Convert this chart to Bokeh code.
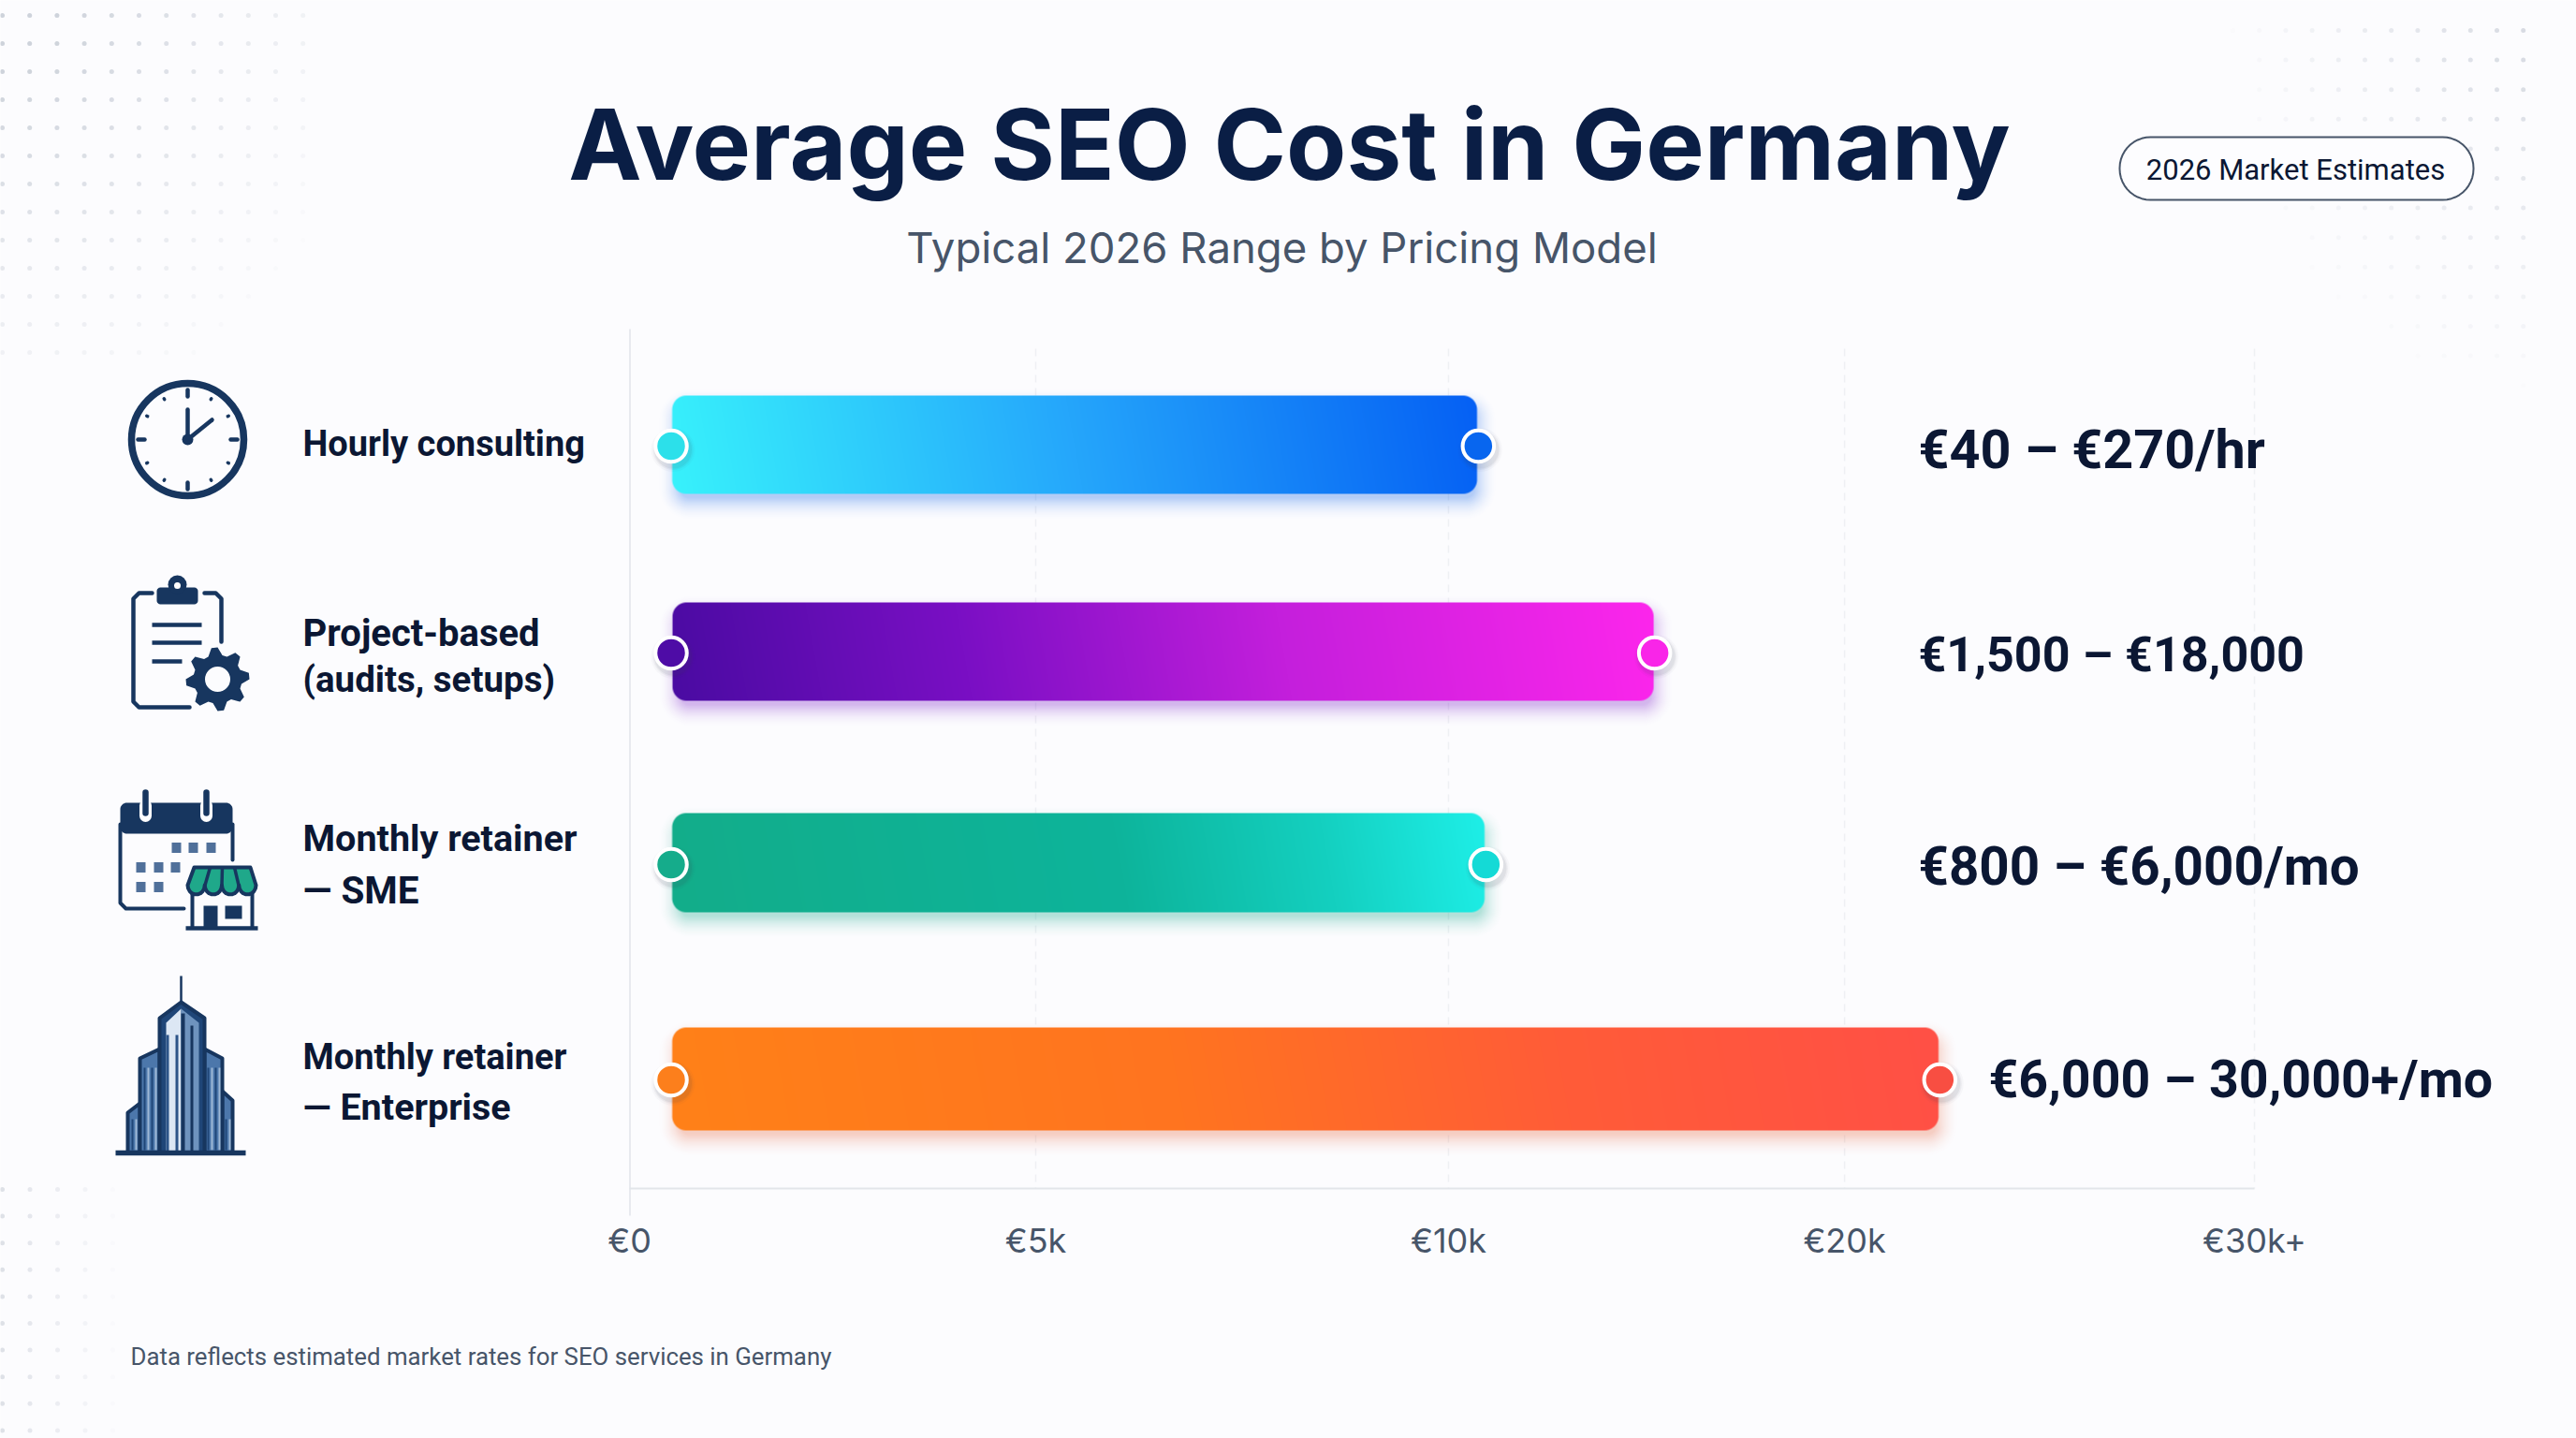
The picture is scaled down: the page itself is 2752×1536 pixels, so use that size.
import numpy as np
from bokeh.plotting import figure
from bokeh.models import Range1d, LinearAxis, FixedTicker, Label
from bokeh.embed import file_html
from bokeh.resources import INLINE

# ---------- data ----------
categories = ["Hourly consulting", "Project-based\n(audits, setups)", "Monthly retainer\n— SME", "Monthly retainer\n— Enterprise"]
range_low_k = [0.53, 0.53, 0.53, 0.53]
range_high_k = [10.73, 15.18, 10.92, 22.3]
value_labels = ["€40 – €270/hr", "€1,500 – €18,000", "€800 – €6,000/mo", "€6,000 – 30,000+/mo"]
tick_k = [0, 5, 10, 20, 30]
tick_labels = ["€0", "€5k", "€10k", "€20k", "€30k+"]

# ---------- layout ----------
W, H = 2752, 1536
TICK_POS = [0.0, 1.0, 2.016, 2.991, 4.0]   # the axis is not linear in euros
PX_PER_UNIT = 434.0
X0 = 672.0
def u(X): return (X - X0) / PX_PER_UNIT
def to_axis(k): return float(np.interp(k, tick_k, TICK_POS))

ROW_Y = [474.5, 695.5, 921, 1152]
BAR_H = [105, 105, 106, 110]
DOT_Y = [476, 697, 923, 1153]
STOPS = [
    [(0, "#38F2FB"), (0.5, "#25A6FB"), (1, "#0560F4")],
    [(0, "#4A0BA2"), (0.3, "#7A0FC4"), (0.62, "#C41FDC"), (1, "#FD26EC")],
    [(0, "#13AD8A"), (0.55, "#0DB49B"), (0.8, "#14D0C0"), (1, "#1EEFE8")],
    [(0, "#FF8118"), (0.4, "#FF7420"), (0.7, "#FF5C38"), (1, "#FF5046")],
]
DOT_L = ["#2CE0EA", "#4E0CA6", "#15AC8B", "#FC7F1C"]
DOT_R = ["#0866EF", "#F925E8", "#14DAD6", "#F84E42"]
SHADOW = ["#1566E8", "#7A1FC8", "#14A88C", "#E86A45"]
NAVY = "#17365F"
INK = "#0B1733"
SLATE = "#475569"
BG = "#FCFCFE"

p = figure(width=W, height=H, output_backend="svg", toolbar_location=None,
           x_axis_type=None, y_axis_type=None, min_border=0,
           x_range=Range1d(u(0), u(W)), y_range=Range1d(H, 0),
           background_fill_color=BG, border_fill_color=BG, outline_line_color=None)
p.grid.visible = False
p.extra_x_ranges["px"] = Range1d(0, W)
p.extra_y_ranges["up"] = Range1d(-H, 0)

def hexrgb(c): return np.array([int(c[i:i + 2], 16) for i in (1, 3, 5)], float)
def line(xs, ys, w, c, cap="round", alpha=1):
    p.line(xs, ys, x_range_name="px", line_width=w, line_color=c, line_cap=cap, line_join="round", line_alpha=alpha)
def poly(xs, ys, c, lc=None, lw=0):
    p.patch(list(xs), list(ys), x_range_name="px", fill_color=c, line_color=lc, line_width=lw, line_join="round")
def disc(x, y, r, c, lc=None, lw=0):
    p.scatter([x], [y], x_range_name="px", size=2 * r, fill_color=c, line_color=lc, line_width=lw)
def box(x0, y0, x1, y1, c):
    poly([x0, x1, x1, x0], [y0, y0, y1, y1], c)
BASE_FIX = 0.37   # distance the text box puts between the anchor and the baseline, per font px
def text(x, y, s, size, color, bold=False, font="Inter", align="left"):
    p.add_layout(Label(x=x, y=y - BASE_FIX * size, x_range_name="px", text=s, text_font=font, text_font_size=f"{size}px",
                       text_color=color, text_font_style="bold" if bold else "normal",
                       text_align=align, text_baseline="alphabetic"))
def rrect(x0, y0, x1, y1, r, n=12):
    t = np.linspace(0, np.pi / 2, n)
    xs = np.r_[x1 - r + r * np.sin(t), x1 - r + r * np.cos(t), x0 + r - r * np.sin(t), x0 + r - r * np.cos(t)]
    ys = np.r_[y0 + r - r * np.cos(t), y1 - r + r * np.sin(t), y1 - r + r * np.cos(t), y0 + r - r * np.sin(t)]
    return xs, ys

# ---------- dotted corners ----------
def dots(xs, ys, fade):
    gx, gy = np.meshgrid(xs, ys)
    a = np.clip(fade(gx, gy), 0, 1) * 0.3
    keep = a > 0.015
    p.scatter(gx[keep], gy[keep], x_range_name="px", size=5, fill_color="#64748B", fill_alpha=a[keep], line_color=None)
dots(2 + 29.2 * np.arange(12), 16 + 30 * np.arange(13), lambda x, y: 1.2 - np.hypot(x / 340, y / 400))
dots(2385 + 28.2 * np.arange(12), 32 + 31.6 * np.arange(13), lambda x, y: 0.85 - np.hypot((2720 - x) / 420, (y - 30) / 480))
dots(2 + 29.5 * np.arange(5), 1270 + 28.6 * np.arange(10), lambda x, y: 0.5 - (x - 32) / 200)

# ---------- axis and grid ----------
line([672.5, 672.5], [351, 1298], 2, "#E8EAEF", cap="butt")
grid = p.segment(TICK_POS[1:], [372] * 4, TICK_POS[1:], [1269] * 4, line_color="#EEF0F4", line_width=1.5)
grid.glyph.line_dash = [8, 6]
p.segment([TICK_POS[0]], [1269], [TICK_POS[-1]], [1269], line_color="#E2E5EA", line_width=2)
axis = LinearAxis(fixed_location=1269, ticker=FixedTicker(ticks=TICK_POS),
                  major_label_overrides={t: s for t, s in zip(TICK_POS, tick_labels)},
                  axis_line_color=None, major_tick_line_color=None, minor_tick_line_color=None,
                  major_label_text_font="Inter", major_label_text_font_size="36px", major_label_text_color=SLATE,
                  major_label_standoff=27, major_label_orientation="horizontal")
p.add_layout(axis, "below")

# ---------- bars ----------
def bar_image(w, h, stops, shadow, margin=44):
    iw, ih = int(w + 2 * margin), int(h + 2 * margin)
    yy, xx = np.mgrid[0:ih, 0:iw] + 0.5
    def sdf(ox, oy, r):
        qx = np.abs(xx - iw / 2 - ox) - (w / 2 - r)
        qy = np.abs(yy - ih / 2 - oy) - (h / 2 - r)
        return np.hypot(np.maximum(qx, 0), np.maximum(qy, 0)) + np.minimum(np.maximum(qx, qy), 0) - r
    t = np.clip((xx - margin + 0.18 * (h - (yy - margin))) / (w + 0.18 * h), 0, 1)
    pos = [s[0] for s in stops]
    cols = np.array([hexrgb(s[1]) for s in stops])
    rgb = np.dstack([np.interp(t, pos, cols[:, i]) for i in range(3)])
    cover = np.clip(0.5 - sdf(0, 0, 15), 0, 1)
    sh = np.clip(1 - np.maximum(sdf(3, 10, 15) + 6, 0) / 26, 0, 1) ** 2 * 0.32
    a = cover + sh * (1 - cover)
    out = (rgb * cover[..., None] + hexrgb(shadow) * (sh * (1 - cover))[..., None]) / np.maximum(a, 1e-4)[..., None]
    rgba = np.zeros((ih, iw, 4), dtype=np.uint8)
    rgba[..., :3] = np.clip(out, 0, 255)
    rgba[..., 3] = np.clip(a * 255, 0, 255)
    return rgba[::-1].copy().view(np.uint32).reshape(ih, iw), iw, ih, margin

for i, cat in enumerate(categories):
    left, right = to_axis(range_low_k[i]), to_axis(range_high_k[i])
    # base bar, through the scales, covered by the gradient raster of the same extent
    inset = 18 / PX_PER_UNIT
    p.hbar(y=[ROW_Y[i]], left=[left + inset], right=[right - inset], height=BAR_H[i] - 3,
           fill_color=STOPS[i][1][1], line_color=None)
    w = (right - left) * PX_PER_UNIT
    img, iw, ih, m = bar_image(w, BAR_H[i], STOPS[i], SHADOW[i])
    p.image_rgba(image=[img], x=left - m / PX_PER_UNIT, dw=iw / PX_PER_UNIT,
                 y=-(ROW_Y[i] + ih / 2), dh=ih, y_range_name="up")
    for x, c in ((left - 1.5 / PX_PER_UNIT, DOT_L[i]), (right + 1 / PX_PER_UNIT, DOT_R[i])):
        for grow, al in ((10, 0.03), (6, 0.05), (3, 0.07)):
            p.scatter([x + 2 / PX_PER_UNIT], [DOT_Y[i] + 4], size=37 + grow, fill_color="#334155", fill_alpha=al, line_color=None)
        p.scatter([x], [DOT_Y[i]], size=33.5, fill_color=c, line_color="#FFFFFF", line_width=4)

# ---------- texts ----------
text(1377, 192, "Average SEO Cost in Germany", 105, "#0A1E45", bold=True, align="center")
text(1369, 281, "Typical 2026 Range by Pricing Model", 45.5, SLATE, align="center")
xs, ys = rrect(2264, 146, 2642, 213, 33)
poly(xs, ys, "#FDFDFF", lc=SLATE, lw=2)
text(2452, 192, "2026 Market Estimates", 31, INK, align="center", font="Roboto")
text(139, 1458, "Data reflects estimated market rates for SEO services in Germany", 25.8, SLATE, font="Roboto")

cat_base = [[488], [691, 739], [910, 965], [1143, 1197]]
cat_size = [[38], [40, 38.5], [39.5, 40.5], [38, 39.5]]
for cat, bases, sizes in zip(categories, cat_base, cat_size):
    for s, b, fs in zip(cat.split("\n"), bases, sizes):
        text(323, b, s, fs, INK, bold=True, font="Roboto")
val_x = [2049, 2049, 2049, 2124]
val_y = [501, 718, 946, 1174]
val_size = [57.5, 52, 56.5, 55.5]
for s, x, y, fs in zip(value_labels, val_x, val_y, val_size):
    text(x, y, s, fs, INK, bold=True, font="Roboto")

# ---------- icons ----------
# clock
disc(200, 469, 60, BG, lc=NAVY, lw=7.5)
for k in range(12):
    a = k * np.pi / 6
    r0, r1, lw = (46, 53, 4.5) if k % 3 == 0 else (49.5, 50.5, 3.5)
    line([200 + r0 * np.sin(a), 200 + r1 * np.sin(a)], [469 - r0 * np.cos(a), 469 - r1 * np.cos(a)], lw, NAVY)
line([200, 200], [469, 437], 4.5, NAVY)
line([200, 226], [469, 448], 4.5, NAVY)
disc(200, 469, 6, NAVY)

# clipboard
line([218, 230, 236, 236], [633, 633, 639, 685], 4.5, NAVY)
line([162, 148, 142, 142, 148, 202], [633, 633, 639, 749, 755, 755], 4.5, NAVY)
xs, ys = rrect(167, 627, 211, 645, 4); poly(xs, ys, NAVY)
disc(189, 624, 10, NAVY); disc(189, 625, 3.5, "#FFFFFF")
line([162, 215], [667, 667], 4.5, NAVY, cap="butt")
line([162, 215], [686, 686], 4.5, NAVY, cap="butt")
line([162, 194], [706, 706], 4.5, NAVY, cap="butt")
ang = np.linspace(0, 2 * np.pi, 8 * 4, endpoint=False) + np.pi / 8 - np.pi / 8 * 1.5
rad = np.tile([34, 34, 26, 26], 8)
poly(232 + rad * np.cos(ang), 725 + rad * np.sin(ang), NAVY)
disc(232, 725, 13.5, BG)

# calendar with shop
line([196, 134, 128, 128], [970, 970, 964, 880], 4, NAVY)
line([248, 248], [880, 918], 4, NAVY)
xs, ys = rrect(128, 857, 248, 890, 7); poly(xs, ys, NAVY)
for x in (155, 220):
    line([x, x], [860, 871], 13, "#FFFFFF")
    line([x, x], [846, 868], 6.5, NAVY)
for x, y in [(188, 905), (206, 905), (225, 905), (150, 926), (169, 926), (187, 926), (150, 947), (169, 947)]:
    box(x - 5, y - 5.5, x + 5, y + 5.5, "#50709A")
box(204, 950, 270, 992, BG)
line([205, 205], [950, 990], 4, NAVY); line([269, 269], [950, 990], 4, NAVY)
line([198, 275], [991, 991], 4.5, NAVY, cap="butt")
box(217, 967, 232, 990, NAVY); box(240, 967, 258, 981, NAVY)
sx = np.linspace(200, 273, 5)
rx, ry = [207, 267, 273], [926, 926, 945]
for a0, a1 in zip(sx[::-1][:-1], sx[::-1][1:]):
    t = np.linspace(0, np.pi, 10)
    rx += list((a0 + a1) / 2 + (a0 - a1) / 2 * np.cos(t))
    ry += list(945 + 10 * np.sin(t))
rx.append(207 - 7); ry.append(945)
poly(rx, ry, "#1FA88A", lc=NAVY, lw=4)
for a, b in zip([218.5, 236.5, 254.5], [224, 237, 250]):
    line([b, a], [926, 945], 3.5, NAVY, cap="butt")

# tower
BLUE, MID, PALE = "#3F6BA3", "#6E93BE", "#D6E4F3"
def tower(xl, xr, yl, yr, fill="#4C77AB"):
    poly([xl, xr, xr, xl], [yl, yr, 1231, 1231], fill, lc=NAVY, lw=4)
line([193, 193], [1042, 1072], 2.5, NAVY, cap="butt")
tower(136, 149, 1188, 1178)
tower(237, 248, 1165, 1175)
tower(149, 170, 1130, 1120)
tower(218, 237, 1120, 1130)
poly([170, 170, 193, 218, 218], [1231, 1087, 1070, 1087, 1231], "#1F4678", lc=NAVY, lw=4)
poly([177, 193, 193, 177], [1092, 1077, 1231, 1231], "#DCE7F4")
poly([193, 212, 212, 193], [1077, 1092, 1231, 1231], MID)
box(177, 1105, 180, 1231, "#2C5488"); box(187, 1105, 190, 1231, "#2C5488")
box(193, 1082, 197, 1231, NAVY); box(203, 1095, 206, 1231, NAVY)
for x0, x1 in [(141, 145), (154, 158), (162, 166), (222, 226), (230, 234), (241, 245)]:
    line([x0, x0], [1195 if x0 in (141, 241) else 1140, 1228], 2, "#1F4678", cap="butt")
    line([x1, x1], [1195 if x0 in (141, 241) else 1140, 1228], 2, PALE, cap="butt", alpha=0.6)
line([123, 262], [1231, 1231], 5.5, NAVY, cap="butt")

open("out.html", "w").write(file_html(p, INLINE))
